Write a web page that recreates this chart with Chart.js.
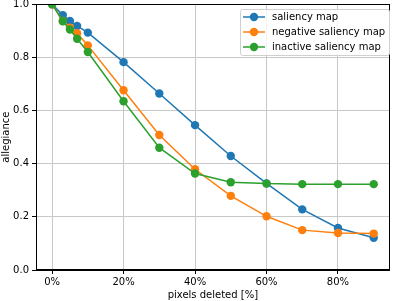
<!DOCTYPE html>
<html>
<head>
<meta charset="utf-8">
<script src="https://cdn.jsdelivr.net/npm/chart.js@4/dist/chart.umd.min.js"></script>
<style>
  html, body { margin: 0; padding: 0; background: #fff; }
  #wrap { width: 394px; height: 301px; position: relative; }
</style>
</head>
<body>
<div id="wrap"><canvas id="chart"></canvas></div>
<script>
const pixelsDeleted = [0, 3, 5, 7, 10, 20, 30, 40, 50, 60, 70, 80, 90];
const saliencyMap = [1.0, 0.959, 0.937, 0.918, 0.893, 0.782, 0.664, 0.545, 0.429, 0.326, 0.228, 0.158, 0.121];
const negativeSaliencyMap = [1.0, 0.937, 0.912, 0.891, 0.845, 0.676, 0.508, 0.379, 0.279, 0.202, 0.150, 0.139, 0.137];
const inactiveSaliencyMap = [1.0, 0.936, 0.905, 0.870, 0.820, 0.635, 0.460, 0.363, 0.330, 0.325, 0.323, 0.323, 0.323];
const xTicks = [0, 20, 40, 60, 80];
const yTicks = [0, 0.2, 0.4, 0.6, 0.8, 1.0];

const FONT = "'DejaVu Sans', sans-serif";

function toPoints(values) {
  return pixelsDeleted.map((x, i) => ({ x: x, y: values[i] }));
}

function makeDataset(label, values, color, order) {
  return {
    label: label,
    data: toPoints(values),
    borderColor: color,
    backgroundColor: color,
    borderWidth: 1.5,
    pointRadius: 4.2,
    pointBorderWidth: 0,
    pointHoverRadius: 4.2,
    tension: 0,
    order: order,
  };
}

// frame round the plot and the legend box, like matplotlib draws them
const framePlugin = {
  id: "frame",
  afterDraw(chart) {
    const { ctx, chartArea } = chart;
    ctx.save();
    ctx.strokeStyle = "#000";
    ctx.lineWidth = 1;
    ctx.strokeRect(
      Math.round(chartArea.left) + 0.5,
      Math.round(chartArea.top) + 0.5,
      Math.round(chartArea.right - chartArea.left) - 1,
      Math.round(chartArea.bottom - chartArea.top) - 1
    );

    // legend
    const boxLeft = 240, boxTop = 9, boxWidth = 149, boxHeight = 46;
    ctx.fillStyle = "rgba(255,255,255,0.8)";
    ctx.strokeStyle = "#d0d0d0";
    ctx.beginPath();
    ctx.roundRect(boxLeft + 0.5, boxTop + 0.5, boxWidth, boxHeight, 2);
    ctx.fill();
    ctx.stroke();

    const items = chart.data.datasets;
    ctx.font = "10px " + FONT;
    ctx.textBaseline = "middle";
    ctx.textAlign = "left";
    items.forEach((ds, i) => {
      const y = boxTop + 8 + i * 15;
      ctx.strokeStyle = ds.borderColor;
      ctx.lineWidth = 1.5;
      ctx.beginPath();
      ctx.moveTo(boxLeft + 3, y);
      ctx.lineTo(boxLeft + 25, y);
      ctx.stroke();
      ctx.fillStyle = ds.borderColor;
      ctx.beginPath();
      ctx.arc(boxLeft + 14, y, 4.2, 0, Math.PI * 2);
      ctx.fill();
      ctx.fillStyle = "#000";
      ctx.fillText(ds.label, boxLeft + 32, y + 0.5);
    });
    ctx.restore();
  },
};

new Chart(document.getElementById("chart"), {
  type: "line",
  data: {
    datasets: [
      makeDataset("saliency map", saliencyMap, "#1f77b4", 2),
      makeDataset("negative saliency map", negativeSaliencyMap, "#ff7f0e", 1),
      makeDataset("inactive saliency map", inactiveSaliencyMap, "#2ca02c", 0),
    ],
  },
  options: {
    responsive: true,
    maintainAspectRatio: false,
    animation: false,
    layout: { padding: { top: 4, right: 1, left: 0, bottom: 0 } },
    plugins: {
      legend: { display: false },
      tooltip: { enabled: false },
    },
    scales: {
      x: {
        type: "linear",
        min: -4.5,
        max: 94.5,
        afterBuildTicks(scale) {
          scale.ticks = xTicks.map((v) => ({ value: v }));
        },
        afterFit(scale) {
          scale.height = 31;
          scale.paddingLeft = 0;
          scale.paddingRight = 0;
        },
        grid: {
          color: "#c8c8c8",
          lineWidth: 1,
          tickColor: "#000",
          tickLength: 4,
          drawTicks: true,
        },
        border: { display: true, color: "#000", width: 1 },
        ticks: {
          color: "#000",
          font: { family: FONT, size: 10 },
          padding: 2,
          maxRotation: 0,
          callback: (v) => v + "%",
        },
        title: {
          display: true,
          text: "pixels deleted [%]",
          color: "#000",
          font: { family: FONT, size: 10 },
          padding: { top: 0, bottom: 0 },
        },
      },
      y: {
        min: 0,
        max: 1,
        afterBuildTicks(scale) {
          scale.ticks = yTicks.map((v) => ({ value: v }));
        },
        afterFit(scale) {
          scale.width = 36;
          scale.paddingTop = 0;
          scale.paddingBottom = 0;
        },
        grid: {
          color: "#c8c8c8",
          lineWidth: 1,
          tickColor: "#000",
          tickLength: 4,
          drawTicks: true,
        },
        border: { display: true, color: "#000", width: 1 },
        ticks: {
          color: "#000",
          font: { family: FONT, size: 10 },
          padding: 3,
          callback: (v) => v.toFixed(1),
        },
        title: {
          display: true,
          text: "allegiance",
          color: "#000",
          font: { family: FONT, size: 10 },
          padding: { top: 0, bottom: 0 },
        },
      },
    },
  },
  plugins: [framePlugin],
});
</script>
</body>
</html>
